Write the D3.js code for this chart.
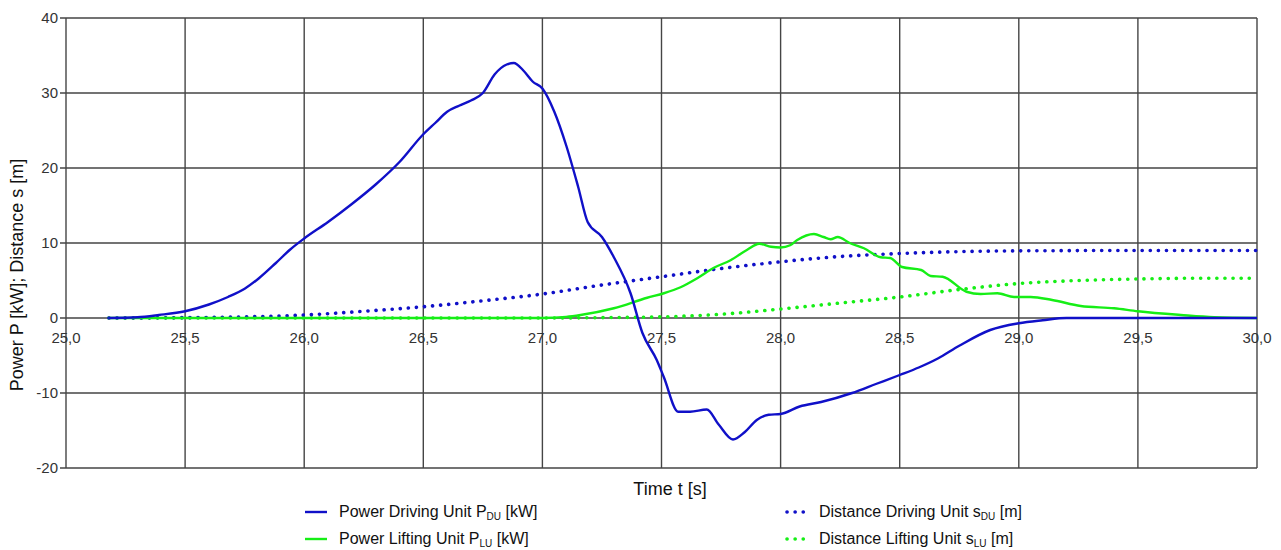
<!DOCTYPE html>
<html><head><meta charset="utf-8">
<script src="https://cdn.jsdelivr.net/npm/d3@7"></script>
<style>body{margin:0;background:#fff}svg{display:block;font-family:"Liberation Sans",Arial,sans-serif}</style>
</head><body><svg id="c" width="1281" height="550"></svg>
<script>
// ---- data ----
const xTicks = [25.0,25.5,26.0,26.5,27.0,27.5,28.0,28.5,29.0,29.5,30.0];
const yTicks = [-20,-10,0,10,20,30,40];
const tPowerDU = [25.18,25.3,25.39,25.5,25.6,25.68,25.75,25.81,25.88,25.94,26.0,26.1,26.2,26.3,26.4,26.5,26.55,26.6,26.65,26.7,26.75,26.8,26.85,26.88,26.92,26.96,27.0,27.05,27.1,27.15,27.19,27.25,27.3,27.37,27.42,27.48,27.51,27.57,27.62,27.69,27.74,27.8,27.85,27.9,27.95,28.0,28.08,28.17,28.3,28.4,28.5,28.58,28.66,28.75,28.88,29.0,29.1,29.2,30.0];
const vPowerDU = [0,0.1,0.4,0.9,1.8,2.8,3.9,5.3,7.3,9.1,10.6,12.8,15.2,17.8,20.8,24.5,26.0,27.5,28.3,29.0,30.0,32.5,33.8,34.0,33.0,31.5,30.6,27.5,23.0,17.5,12.8,10.8,8.1,3.3,-2,-5.6,-7.9,-12.5,-12.5,-12.2,-14.2,-16.2,-15.2,-13.6,-12.9,-12.8,-11.8,-11.2,-10.0,-8.8,-7.6,-6.6,-5.4,-3.7,-1.6,-0.7,-0.3,0,0];
const tPowerLU = [25.18,27.0,27.1,27.16,27.3,27.44,27.51,27.58,27.65,27.72,27.79,27.86,27.91,27.96,28.0,28.04,28.07,28.14,28.18,28.21,28.24,28.29,28.35,28.42,28.46,28.51,28.59,28.63,28.68,28.78,28.84,28.91,28.98,29.05,29.14,29.26,29.4,29.5,29.68,29.82,30.0];
const vPowerLU = [0,0,0.15,0.4,1.3,2.7,3.3,4.1,5.3,6.7,7.7,9.1,9.9,9.5,9.4,9.7,10.4,11.2,10.8,10.5,10.8,10.0,9.3,8.1,8.0,6.8,6.4,5.6,5.5,3.5,3.2,3.3,2.8,2.8,2.4,1.6,1.3,0.9,0.4,0.1,0];
const tDistDU = [25.18,25.5,25.75,26.0,26.25,26.5,26.75,27.0,27.25,27.5,27.75,28.0,28.25,28.5,28.75,29.0,29.5,30.0];
const vDistDU = [0,0.05,0.15,0.4,0.9,1.5,2.3,3.2,4.4,5.5,6.6,7.5,8.2,8.6,8.85,8.95,9.0,9.0];
const tDistLU = [25.18,27.0,27.25,27.5,27.75,28.0,28.25,28.5,28.75,29.0,29.25,29.5,29.75,30.0];
const vDistLU = [0,0,0.05,0.15,0.5,1.2,2.0,2.8,3.8,4.6,5.0,5.2,5.3,5.3];
const seriesNames = ["Power Driving Unit P","Power Lifting Unit P","Distance Driving Unit s","Distance Lifting Unit s"];
const seriesSubs = ["DU","LU","DU","LU"];
const seriesUnits = [" [kW]"," [kW]"," [m]"," [m]"];

// ---- layout ----
const svg = d3.select("#c");
const L=66,R=1257,T=18,B=468;
const x = d3.scaleLinear().domain([25,30]).range([L,R]);
const y = d3.scaleLinear().domain([-20,40]).range([B,T]);
const blue="#1010c8", green="#16ee16", grid="#454545";

const g = svg.append("g");
g.selectAll(".vg").data(xTicks).enter().append("line")
 .attr("x1",d=>x(d)).attr("x2",d=>x(d)).attr("y1",T).attr("y2",B)
 .attr("stroke",grid).attr("stroke-width",1.4);
g.selectAll(".hg").data(yTicks).enter().append("line")
 .attr("x1",L-6).attr("x2",R).attr("y1",d=>y(d)).attr("y2",d=>y(d))
 .attr("stroke",grid).attr("stroke-width",1.4);

const fmt = d=>d3.format(".1f")(d).replace(".",",");
g.selectAll(".xl").data(xTicks).enter().append("text")
 .attr("x",d=>x(d)).attr("y",y(0)+25).attr("text-anchor","middle")
 .attr("font-size",15).attr("fill","#333").text(fmt);
g.selectAll(".yl").data(yTicks).enter().append("text")
 .attr("x",L-8).attr("y",d=>y(d)+5).attr("text-anchor","end")
 .attr("font-size",15).attr("fill","#333").text(d=>d);

svg.append("text").attr("x",670).attr("y",495).attr("text-anchor","middle")
 .attr("font-size",18).attr("fill","#111").text("Time t [s]");
svg.append("text").attr("transform","translate(23,275) rotate(-90)").attr("text-anchor","middle")
 .attr("font-size",18).attr("fill","#111").text("Power P [kW]; Distance s [m]");

// ---- lines ----
const mk = (ts,vs)=>ts.map((t,i)=>[t,vs[i]]);
const lineL = d3.line().x(d=>x(d[0])).y(d=>y(d[1]));
const lineS = d3.line().x(d=>x(d[0])).y(d=>y(d[1])).curve(d3.curveMonotoneX);
const dotted = {"stroke-dasharray":"0.1 8","stroke-linecap":"round","stroke-width":3.6};
function addDot(data,color){
  const p=svg.append("path").datum(data).attr("d",lineS).attr("fill","none").attr("stroke",color);
  for(const k in dotted) p.attr(k,dotted[k]);
}
addDot(mk(tDistLU,vDistLU),green);
addDot(mk(tDistDU,vDistDU),blue);
svg.append("path").datum(mk(tPowerLU,vPowerLU)).attr("d",lineS).attr("fill","none")
 .attr("stroke",green).attr("stroke-width",2.4).attr("stroke-linejoin","round");
svg.append("path").datum(mk(tPowerDU,vPowerDU)).attr("d",lineS).attr("fill","none")
 .attr("stroke",blue).attr("stroke-width",2.4).attr("stroke-linejoin","round");

// ---- legend ----
const legPos = [[305,512],[305,539],[785,512],[785,539]];
const legCol = [blue,green,blue,green];
legPos.forEach((p,i)=>{
  const ln = svg.append("line").attr("x1",p[0]).attr("x2",p[0]+22).attr("y1",p[1]).attr("y2",p[1])
    .attr("stroke",legCol[i]);
  if(i<2) ln.attr("stroke-width",2.4);
  else { ln.attr("x1",p[0]+2).attr("x2",p[0]+22); for(const k in dotted) ln.attr(k,dotted[k]); }
  const t = svg.append("text").attr("x",p[0]+(i<2?34:34)).attr("y",p[1]+5).attr("font-size",16).attr("fill","#111");
  t.append("tspan").text(seriesNames[i]);
  t.append("tspan").attr("font-size",10).attr("dy",3).text(seriesSubs[i]);
  t.append("tspan").attr("dy",-3).text(seriesUnits[i]);
});
</script></body></html>
